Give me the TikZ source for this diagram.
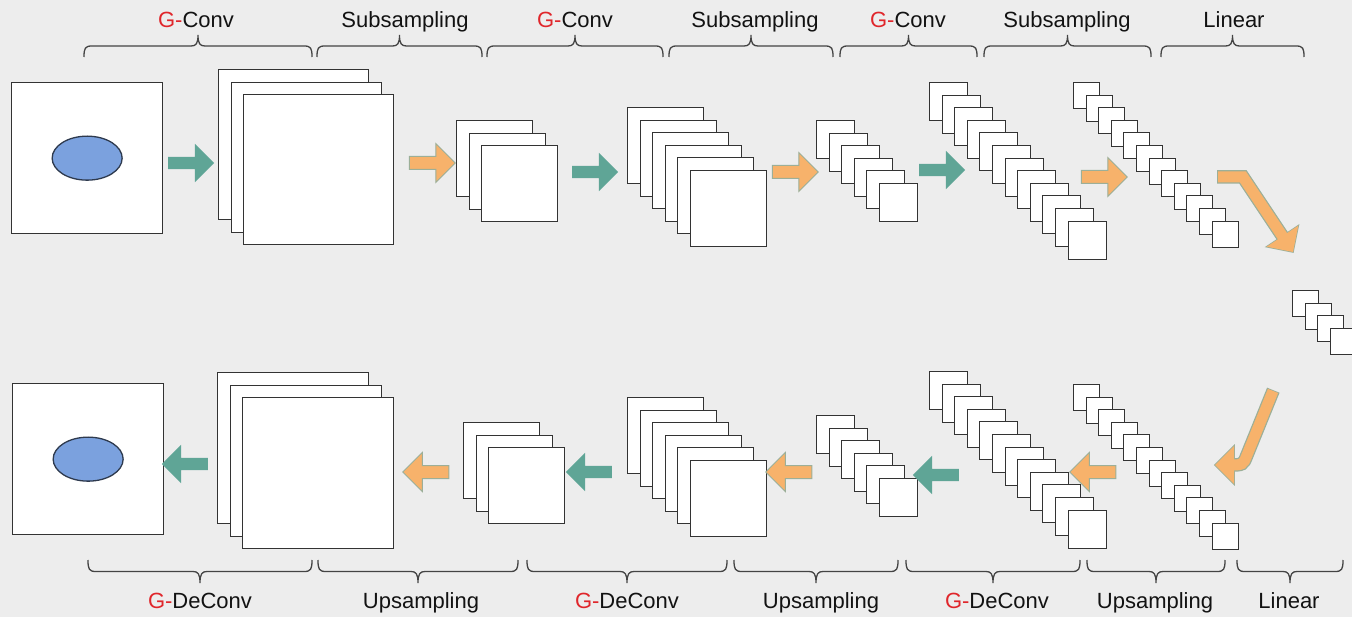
\documentclass[tikz,border=0pt]{standalone}
\usepackage{fontspec}
\setmainfont{Liberation Sans}
\usetikzlibrary{shapes.arrows,shapes.geometric,calc}

\definecolor{bg}{HTML}{EDEDED}
\definecolor{arrteal}{HTML}{5FA596}
\definecolor{arrorange}{HTML}{F7B26B}
\definecolor{arredge}{HTML}{9CAF98}
\definecolor{framegray}{HTML}{333333}
\definecolor{blob}{HTML}{7BA1DE}
\definecolor{blobedge}{HTML}{2E3A4E}
\definecolor{gred}{HTML}{E0262B}
\definecolor{bracegray}{HTML}{444444}

% a stack of feature maps: name, x, y (top-left of the back map), size, count
\newcommand\fmstack[5]{%
  \foreach \k in {1,...,#5}{%
    \node[fmap, minimum size=#4pt] (#1-\k)
      at ({round(#2+(\k-1)*12.6)},{round(#3+(\k-1)*12.6)}) {};}}

% curly brace: x1, x2, y of the tips, height (positive = opens downwards)
\newcommand\grpbrace[4]{%
  \pgfmathsetmacro\bm{(#1+#2)/2}%
  \pgfmathsetmacro\bl{#3-(#4)/2}%
  \pgfmathsetmacro\bc{#3-(#4)}%
  \pgfmathsetmacro\bq{#3-0.4*(#4)}%
  \pgfmathsetmacro\bp{#3-0.6*(#4)}%
  \draw[brc] (#1,#3) .. controls (#1,\bq) and (#1+1,\bl) .. (#1+8,\bl)
    -- (\bm-7,\bl) .. controls (\bm-2,\bl) and (\bm,\bp) .. (\bm,\bc)
    .. controls (\bm,\bp) and (\bm+2,\bl) .. (\bm+7,\bl)
    -- (#2-8,\bl) .. controls (#2-1,\bl) and (#2,\bq) .. (#2,#3);}

\begin{document}
\begin{tikzpicture}[x=1pt,y=-1pt,
  fmap/.style={draw=framegray, line width=1.3pt, fill=white, inner sep=0pt, anchor=north west},
  blk/.style={shape=single arrow, inner xsep=0pt, inner ysep=6pt, minimum height=46pt,
    single arrow head extend=13pt, single arrow tip angle=90, single arrow head indent=0pt},
  tealarr/.style={blk, fill=arrteal},
  orarr/.style={blk, fill=arrorange, draw=arredge, line width=1pt},
  leftward/.style={shape border rotate=180},
  blobnode/.style={shape=ellipse, fill=blob, draw=blobedge, line width=1.3pt,
    minimum width=70pt, minimum height=44pt, inner sep=0pt},
  lbl/.style={font=\fontsize{22}{26}\selectfont, anchor=base, inner sep=0pt, text=black!93},
  brc/.style={draw=bracegray, line width=1.3pt},
]
\useasboundingbox (0,0) rectangle (1352,617);
\clip (0,0) rectangle (1352,617);
\fill[bg] (0,0) rectangle (1352,617);

% ---------- encoder ----------
\node[fmap, minimum size=151pt] (in) at (11,82) {};
\node[blobnode] (inblob) at (in.center) {};
\fmstack{t1}{218}{69}{150}{3}
\fmstack{t2}{456}{120}{76}{3}
\fmstack{t3}{627}{107}{76}{6}
\fmstack{t4}{816}{120}{38}{6}
\fmstack{t5}{929}{82}{38}{12}
\fmstack{t6}{1073}{82}{26}{12}

\node[tealarr] (a1) at (188,163) {};
\node[orarr]   (a2) at (429,163) {};
\node[tealarr] (a3) at (592,172) {};
\node[orarr]   (a4) at (792,172) {};
\node[tealarr] (a5) at (939,170) {};
\node[orarr]   (a6) at (1101,177) {};

% ---------- bottleneck ----------
\fmstack{m}{1292}{290}{26}{4}

% ---------- decoder ----------
\node[fmap, minimum size=151pt] (out) at (12,383) {};
\node[blobnode] (outblob) at (out.center) {};
\fmstack{u1}{217}{372}{151}{3}
\fmstack{u2}{463}{422}{76}{3}
\fmstack{u3}{627}{397}{76}{6}
\fmstack{u4}{816}{415}{38}{6}
\fmstack{u5}{929}{371}{38}{12}
\fmstack{u6}{1073}{384}{26}{12}

\node[tealarr, leftward] (b1) at (188,464) {};
\node[orarr, leftward]   (b2) at (429,472) {};
\node[tealarr, leftward] (b3) at (592,472) {};
\node[orarr, leftward]   (b4) at (792,472) {};
\node[tealarr, leftward] (b5) at (939,475) {};
\node[orarr, leftward]   (b6) at (1096,472) {};

% ---------- bent arrows into and out of the bottleneck ----------
\coordinate (p0) at (1217.2,177);
\coordinate (p1) at (1243,177);
\coordinate (ptip) at (1293,252);
\coordinate (pbase) at ($(ptip)!19pt!(p1)$);
\coordinate (pin) at ($(pbase)!5pt!(ptip)$);
\coordinate (pw1) at ($(pbase)!19pt!90:(ptip)$);
\coordinate (pw2) at ($(pbase)!19pt!-90:(ptip)$);
\draw[arredge, line width=13.5pt, line join=miter] (p0) -- (p1) -- (pin);
\filldraw[arredge, line width=1.5pt, line join=miter] (pw1) -- (ptip) -- (pw2) -- cycle;
\draw[arrorange, line width=11pt, line join=miter] ($(p0)+(0.8,0)$) -- (p1) -- (pin);
\fill[arrorange] (pw1) -- (ptip) -- (pw2) -- cycle;

\coordinate (q0) at (1273.3,390.2);
\coordinate (q1) at (1247,455);
\coordinate (qc) at (1243,465);
\coordinate (qin) at (1229,465);
\coordinate (qtip) at (1215,465);
\coordinate (qw1) at (1234,446);
\coordinate (qw2) at (1234,484);
\draw[arredge, line width=13.5pt] (q0) -- (q1) .. controls (qc) .. (qin);
\filldraw[arredge, line width=1.5pt, line join=miter] (qw1) -- (qtip) -- (qw2) -- cycle;
\draw[arrorange, line width=11pt] ($(q0)!0.8pt!(q1)$) -- (q1) .. controls (qc) .. (qin);
\fill[arrorange] (qw1) -- (qtip) -- (qw2) -- cycle;

% ---------- group braces and labels, top ----------
\grpbrace{84}{312}{57}{22}
\grpbrace{317}{482}{57}{22}
\grpbrace{487}{663}{57}{22}
\grpbrace{669}{833}{57}{22}
\grpbrace{840}{977}{57}{22}
\grpbrace{984}{1151}{57}{22}
\grpbrace{1161}{1304}{57}{22}

\node[lbl] (l1) at (196,28) {\textcolor{gred}{G-}Conv};
\node[lbl] (l2) at (405,28) {Subsampling};
\node[lbl] (l3) at (575,28) {\textcolor{gred}{G-}Conv};
\node[lbl] (l4) at (755,28) {Subsampling};
\node[lbl] (l5) at (908,28) {\textcolor{gred}{G-}Conv};
\node[lbl] (l6) at (1067,28) {Subsampling};
\node[lbl] (l7) at (1234,28) {Linear};

% ---------- group braces and labels, bottom ----------
\grpbrace{88}{312}{560}{-23}
\grpbrace{318}{518}{560}{-23}
\grpbrace{527}{727}{560}{-23}
\grpbrace{734}{898}{560}{-23}
\grpbrace{906}{1080}{560}{-23}
\grpbrace{1087}{1225}{560}{-23}
\grpbrace{1237}{1343}{560}{-23}

\node[lbl] (r1) at (200,608) {\textcolor{gred}{G-}DeConv};
\node[lbl] (r2) at (421,608) {Upsampling};
\node[lbl] (r3) at (627,608) {\textcolor{gred}{G-}DeConv};
\node[lbl] (r4) at (821,608) {Upsampling};
\node[lbl] (r5) at (997,608) {\textcolor{gred}{G-}DeConv};
\node[lbl] (r6) at (1155,608) {Upsampling};
\node[lbl] (r7) at (1289,608) {Linear};
\end{tikzpicture}
\end{document}
